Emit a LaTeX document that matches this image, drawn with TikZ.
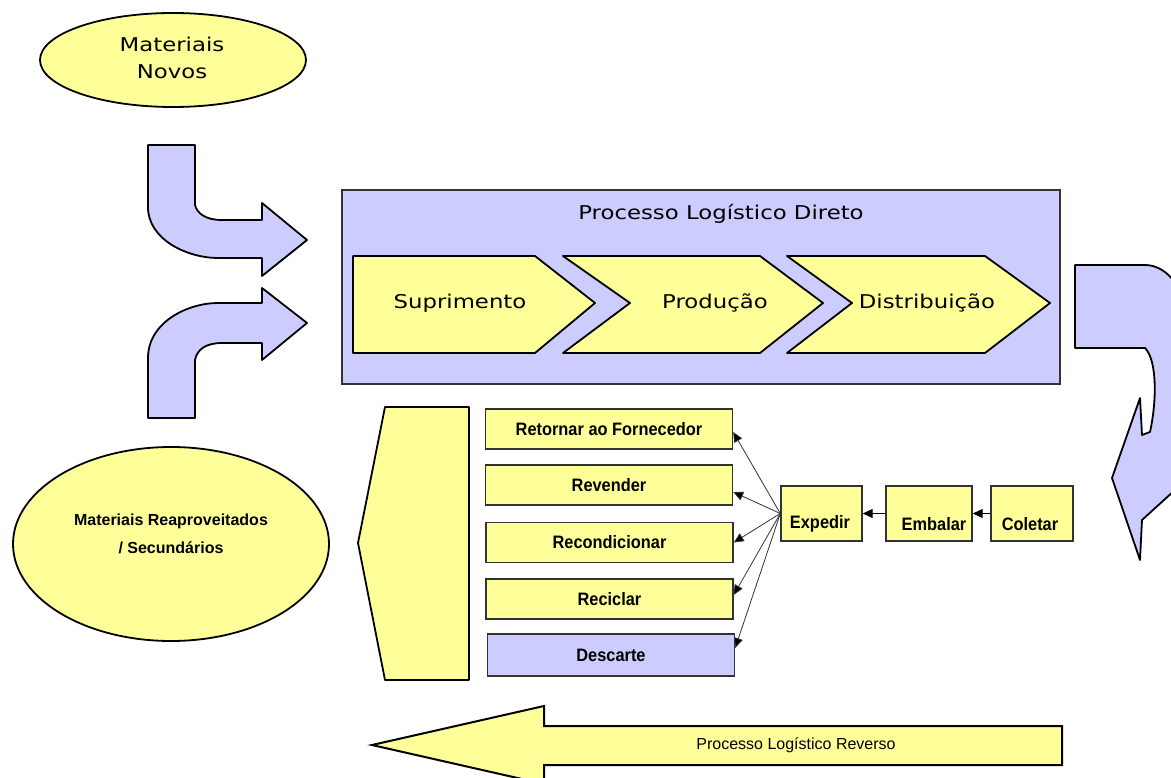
\documentclass[tikz,border=0pt]{standalone}
\usepackage{fontspec}
\setmainfont{Liberation Sans}
\newfontfamily\pixfont{DejaVu Sans}[FakeStretch=1.2]
\newfontfamily\narrowfont{Liberation Sans}[FakeStretch=0.91]
\usetikzlibrary{shapes.geometric,arrows.meta,calc}
\definecolor{pyellow}{RGB}{255,255,153}
\definecolor{plav}{RGB}{204,204,255}
\tikzset{
  pix/.style={font=\pixfont\fontsize{19}{27}\selectfont, align=center, inner sep=0},
  yshape/.style={draw=black, line width=1.8pt, fill=pyellow, line join=round},
  lshape/.style={draw=black, line width=1.8pt, fill=plav, line join=round},
  rbox/.style={draw=black!80, line width=1.4pt, fill=pyellow, minimum width=247, minimum height=40, inner sep=0,
    font=\narrowfont\bfseries\fontsize{18}{20}\selectfont},
  sbox/.style={draw=black!80, line width=1.4pt, fill=pyellow, minimum height=55, inner sep=0},
  slbl/.style={font=\narrowfont\bfseries\fontsize{18}{20}\selectfont, inner sep=0},
  fan/.style={draw=black!80, line width=0.8pt, -{Triangle[length=10pt,width=9pt,fill=black]}},
  chain/.style={draw=black, line width=1pt, -{Triangle[length=10pt,width=9pt]}},
}
\begin{document}
\begin{tikzpicture}[x=1pt,y=-1pt]
\useasboundingbox (0,0) rectangle (1171,778);
\clip (0,0) rectangle (1171,778);
\fill[white] (0,0) rectangle (1171,778);

% Materiais Novos
\node[ellipse, draw=black, line width=1.8pt, fill=pyellow, minimum width=266, minimum height=94, inner sep=0] (novos) at (173,60) {};
\node[pix] (novostxt) at (172,58) {Materiais\\Novos};

% curved arrows (left)
\draw[lshape] (148,145) -- (195,145) -- (195,205) .. controls (197,213) and (205,220) .. (222,220)
  -- (262,220) -- (262,203) -- (307,240) -- (262,276) -- (262,258) -- (218,258)
  .. controls (188,258) and (148,240) .. (148,207) -- cycle;
\draw[lshape] (148,418) -- (148,358) .. controls (148,322) and (188,303) .. (218,303)
  -- (262,303) -- (262,288) -- (307,323) -- (262,360) -- (262,343) -- (222,343)
  .. controls (205,343) and (197,350) .. (195,360) -- (195,418) -- cycle;

% Processo Logistico Direto
\node[draw=black!80, line width=2pt, fill=plav, minimum width=718, minimum height=193, inner sep=0] (direto) at (701,287) {};
\node[pix] (diretotxt) at (721,214) {Processo Logístico Direto};
\draw[yshape] (353,256) -- (535,256) -- (595,303) -- (535,353) -- (353,353) -- cycle;
\draw[yshape] (563,256) -- (760,256) -- (823,303) -- (760,353) -- (563,353) -- (630,303) -- cycle;
\draw[yshape] (787,256) -- (985,256) -- (1050,303) -- (985,353) -- (787,353) -- (852,303) -- cycle;
\node[pix] (sup) at (460,303) {Suprimento};
\node[pix] (prod) at (715,303) {Produção};
\node[pix] (dist) at (927,303) {Distribuição};

% right curved arrow
\draw[lshape] (1075,265) -- (1145,265) .. controls (1165,265) and (1182,285) .. (1186,310)
  -- (1186,480) -- (1142,520) -- (1140,560) -- (1112,478) -- (1140,398) -- (1142,435) -- (1150,432)
  .. controls (1157,400) and (1157,360) .. (1145,348) -- (1075,348) -- cycle;

% Materiais Reaproveitados
\node[ellipse, draw=black, line width=1.8pt, fill=pyellow, minimum width=316, minimum height=194, inner sep=0] (reap) at (171,544) {};
\node[align=center, inner sep=0, font=\bfseries\fontsize{16}{28}\selectfont] (reaptxt) at (171,534) {Materiais Reaproveitados\\/ Secundários};

% pentagon
\draw[yshape] (385,407) -- (469,407) -- (469,680) -- (385,680) -- (358,543) -- cycle;

% option boxes
\node[rbox] (ret) at (609,429) {Retornar ao Fornecedor};
\node[rbox] (rev) at (609,485) {Revender};
\node[rbox] (rec) at (609.5,542.5) {Recondicionar};
\node[rbox] (recl) at (609.5,599) {Reciclar};
\node[rbox, fill=plav, minimum height=42] (des) at (611,655) {Descarte};

% chain
\node[sbox, minimum width=81] (exp) at (821.5,513.5) {};
\node[sbox, minimum width=86] (emb) at (929,513.5) {};
\node[sbox, minimum width=82] (col) at (1032,513.5) {};
\node[slbl] (exptxt) at (820,524) {Expedir};
\node[slbl] (embtxt) at (934,524) {Embalar};
\node[slbl] (coltxt) at (1030,524) {Coletar};

\draw[chain] (col.west) -- (emb.east);
\draw[chain] (emb.west) -- (exp.east);
\draw[fan] (exp.west) -- ([yshift=-3pt]ret.east);
\draw[fan] (exp.west) -- ([yshift=-7pt]rev.east);
\draw[fan] (exp.west) -- (rec.east);
\draw[fan] (exp.west) -- ([yshift=4pt]recl.east);
\draw[fan] (exp.west) -- ([yshift=7pt]des.east);

% bottom arrow
\draw[draw=black, line width=2pt, fill=pyellow, line join=miter] (1062,726) -- (544,726) -- (544,706) -- (372,745) -- (544,784) -- (544,765) -- (1062,765) -- cycle;
\node[inner sep=0, font=\fontsize{16}{18}\selectfont] (revtxt) at (796,745) {Processo Logístico Reverso};
\end{tikzpicture}
\end{document}
